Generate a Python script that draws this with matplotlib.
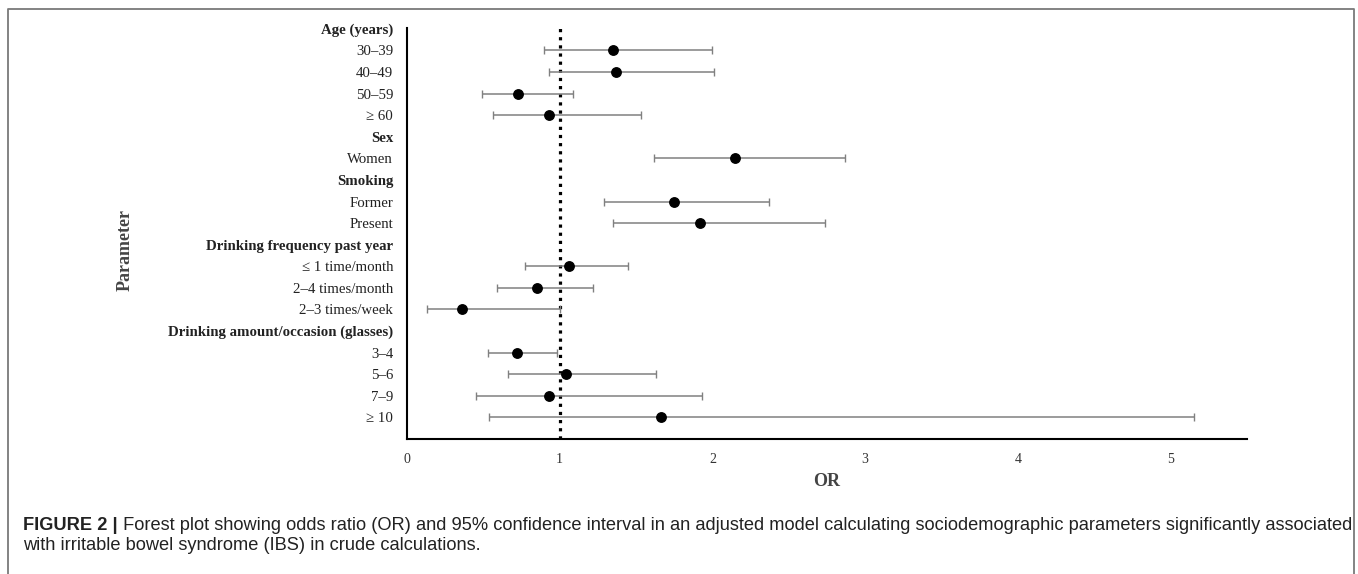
import numpy as np
import matplotlib
matplotlib.use("Agg")
import matplotlib.pyplot as plt
from matplotlib.lines import Line2D

# rows from top to bottom, headers have no estimate
labels = ["Age (years)", "30\u201339", "40\u201349", "50\u201359", "\u2265 60",
          "Sex", "Women",
          "Smoking", "Former", "Present",
          "Drinking frequency past year", "\u2264 1 time/month", "2\u20134 times/month", "2\u20133 times/week",
          "Drinking amount/occasion (glasses)", "3\u20134", "5\u20136", "7\u20139", "\u2265 10"]
is_header = [True, False, False, False, False,
             True, False,
             True, False, False,
             True, False, False, False,
             True, False, False, False, False]

nan = np.nan
odds = [nan, 1.35, 1.37, 0.73, 0.93,
        nan, 2.15,
        nan, 1.745, 1.92,
        nan, 1.06, 0.85, 0.36,
        nan, 0.72, 1.04, 0.93, 1.66]
ci_low = [nan, 0.90, 0.93, 0.49, 0.56,
          nan, 1.62,
          nan, 1.29, 1.35,
          nan, 0.77, 0.59, 0.13,
          nan, 0.53, 0.66, 0.45, 0.54]
ci_high = [nan, 2.00, 2.01, 1.09, 1.53,
           nan, 2.87,
           nan, 2.37, 2.74,
           nan, 1.45, 1.22, 1.00,
           nan, 0.98, 1.63, 1.93, 5.15]

xticks = [0, 1, 2, 3, 4, 5]

odds = np.array(odds)
lo = odds - np.array(ci_low)
hi = np.array(ci_high) - odds
rows = np.arange(len(labels))

serif = ["Liberation Serif", "DejaVu Serif"]
sans = ["Liberation Sans", "DejaVu Sans"]

fig = plt.figure(figsize=(13.58, 5.74), dpi=100)
ax = fig.add_axes([407 / 1358, 1 - 439 / 574, 840 / 1358, 411 / 574])

ax.errorbar(odds, rows, xerr=[lo, hi], fmt="o", color="black", ms=6.8,
            ecolor="#808080", elinewidth=1.1, capsize=3, capthick=1.0, zorder=3)
ax.axvline(1, color="black", lw=2.3, linestyle=(0, (1, 1.55)), zorder=2)

ax.set_xlim(0, 5.5)
ax.set_ylim(19.0, -0.04)
ax.set_xticks(xticks)
ax.set_xticklabels([str(t) for t in xticks], family=serif, fontsize=10, color="#333333")
ax.set_yticks(rows)
ax.set_yticklabels(labels, family=serif, fontsize=10.7, color="#222222")
for tl, h in zip(ax.get_yticklabels(), is_header):
    if h:
        tl.set_fontweight("bold")
ax.tick_params(axis="both", length=0)
ax.tick_params(axis="y", pad=10)
ax.tick_params(axis="x", pad=10)

for s in ["top", "right"]:
    ax.spines[s].set_visible(False)
for s in ["left", "bottom"]:
    ax.spines[s].set_linewidth(1.5)
    ax.spines[s].set_color("black")

fig.text(827 / 1358, 1 - 481 / 574, "OR", family=serif, fontweight="bold",
         fontsize=13, color="#444444", ha="center", va="center")
fig.text(125 / 1358, 1 - 250 / 574, "Parameter", family=serif, fontweight="bold",
         fontsize=13, color="#444444", ha="center", va="center", rotation=90)

# caption
t1 = fig.text(23 / 1358, 1 - 530 / 574, "FIGURE 2 |", family=sans, fontweight="bold",
              fontsize=13.15, color="#222222", va="baseline")
ax.annotate(" Forest plot showing odds ratio (OR) and 95% confidence interval in an adjusted model "
            "calculating sociodemographic parameters significantly associated",
            xy=(1, 0), xycoords=t1, va="bottom", ha="left", family=sans, fontsize=13.15,
            color="#222222", annotation_clip=False)
fig.text(23 / 1358, 1 - 550 / 574, "with irritable bowel syndrome (IBS) in crude calculations.",
         family=sans, fontsize=13.15, color="#222222", va="baseline")

# frame around the figure panel
x0, x1, yt = 8 / 1358, 1354 / 1358, 1 - 9 / 574
fig.add_artist(Line2D([x0, x0, x1, x1], [0, yt, yt, 0], transform=fig.transFigure,
                      color="#7a7a7a", lw=1.3))

fig.savefig("out.png", dpi=100)
